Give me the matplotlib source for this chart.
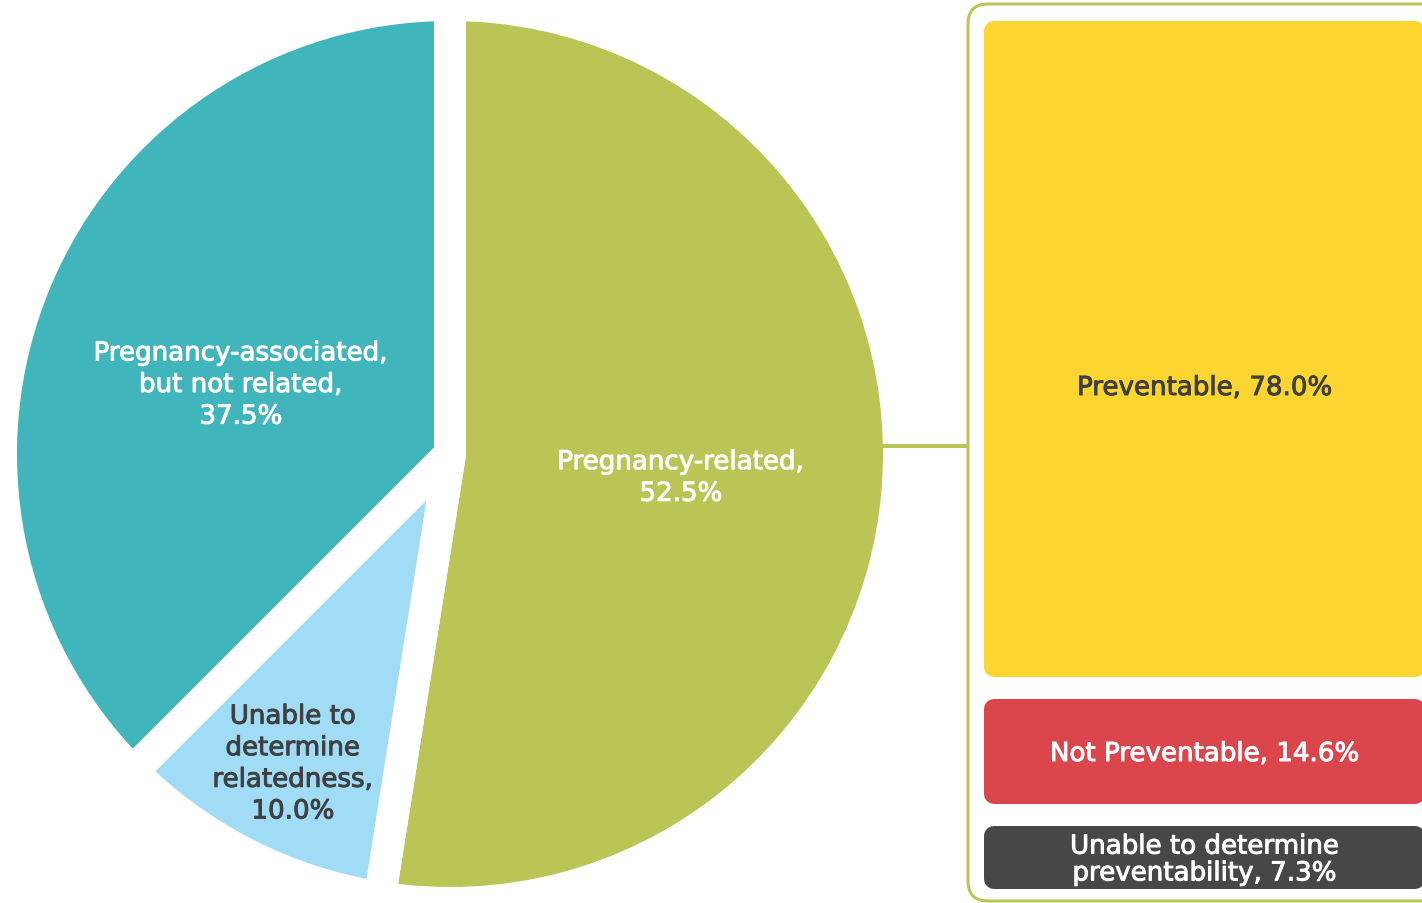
import matplotlib
matplotlib.use("Agg")
import matplotlib.pyplot as plt
import matplotlib.patheffects as pe
from matplotlib.patches import FancyBboxPatch

# --- data -----------------------------------------------------------------
pie_labels = [
    "Pregnancy-related,\n52.5%",
    "Unable to\ndetermine\nrelatedness,\n10.0%",
    "Pregnancy-associated,\nbut not related,\n37.5%",
]
pie_values = [52.5, 10.0, 37.5]
pie_colors = ["#BAC555", "#A0DCF6", "#40B5BC"]
pie_text_colors = ["white", "#404041", "white"]

bar_labels = [
    "Preventable, 78.0%",
    "Not Preventable, 14.6%",
    "Unable to determine\npreventability, 7.3%",
]
bar_values = [78.0, 14.6, 7.3]
bar_colors = ["#FDD530", "#DB454C", "#47474A"]
bar_text_colors = ["#404041", "white", "white"]

OLIVE = "#BAC555"

# --- layout (pixels) ------------------------------------------------------
W, H, DPI = 1422, 904, 100
PT = 72 / DPI
CX, CY, R = 450, 455, 433
GAP = 32
BAR_X0, BAR_X1, BAR_Y0, BAR_Y1 = 984, 1425, 22, 890
BAR_GAP, BAR_CORNER = 22, 10


def fig_xy(px, py):
    return px / W, 1 - (py + 3) / H


def label(px, py, text, color, spacing):
    fig.text(*fig_xy(px, py), text, color=color, ha="center", va="center",
             family="DejaVu Sans", fontsize=18.8, linespacing=spacing, zorder=5,
             path_effects=[pe.withStroke(linewidth=0.7, foreground=color)])


fig = plt.figure(figsize=(W / DPI, H / DPI), dpi=DPI)

# pie: white edges give the even gaps between slices
ax_pie = fig.add_axes([0, 0, 1, 1], zorder=1)
ax_pie.pie(
    pie_values,
    colors=pie_colors,
    startangle=90,
    counterclock=False,
    radius=1 + GAP / 2 / R,
    wedgeprops=dict(linewidth=GAP * PT, edgecolor="white", joinstyle="round"),
)
ax_pie.set_aspect("auto")
ax_pie.set_xlim(-CX / R, (W - CX) / R)
ax_pie.set_ylim((CY - H) / R, CY / R)
ax_pie.axis("off")

# pixel-space layer for the bracket box and connector
ax_px = fig.add_axes([0, 0, 1, 1], zorder=2)
ax_px.set_xlim(0, W)
ax_px.set_ylim(H, 0)
ax_px.axis("off")
ax_px.add_patch(FancyBboxPatch((968, 5), 540, 897, boxstyle="round,pad=0,rounding_size=20",
                               fill=False, edgecolor=OLIVE, linewidth=3 * PT))
ax_px.plot([CX + R - 2, 968], [447, 447], color=OLIVE, linewidth=4 * PT, solid_capstyle="butt")

# stacked bar, rounded via a same-colour round-joined outline
ax_bar = fig.add_axes([BAR_X0 / W, 1 - BAR_Y1 / H, (BAR_X1 - BAR_X0) / W, (BAR_Y1 - BAR_Y0) / H], zorder=3)
total = sum(bar_values)
ppp = (BAR_Y1 - BAR_Y0) / total
bar_w_px = BAR_X1 - BAR_X0
start = 0.0
for i, (val, col) in enumerate(zip(bar_values, bar_colors)):
    gap = 0 if i == len(bar_values) - 1 else BAR_GAP / ppp
    ax_bar.bar(0.5, val - gap - 2 * BAR_CORNER / ppp, width=1 - 2 * BAR_CORNER / bar_w_px,
               bottom=start + BAR_CORNER / ppp, color=col, edgecolor=col,
               linewidth=2 * BAR_CORNER * PT, joinstyle="round", clip_on=False)
    start += val
ax_bar.set_xlim(0, 1)
ax_bar.set_ylim(total, 0)
ax_bar.axis("off")

# labels
pie_label_pos = [(681, 476), (293, 762), (241, 383)]
for text, color, (px, py) in zip(pie_labels, pie_text_colors, pie_label_pos):
    label(px, py, text, color, 1.28)

bar_label_pos = [(1205, 386), (1205, 752), (1205, 858)]
for text, color, (px, py) in zip(bar_labels, bar_text_colors, bar_label_pos):
    label(px, py, text, color, 1.04)

fig.savefig("out.png", dpi=DPI)
